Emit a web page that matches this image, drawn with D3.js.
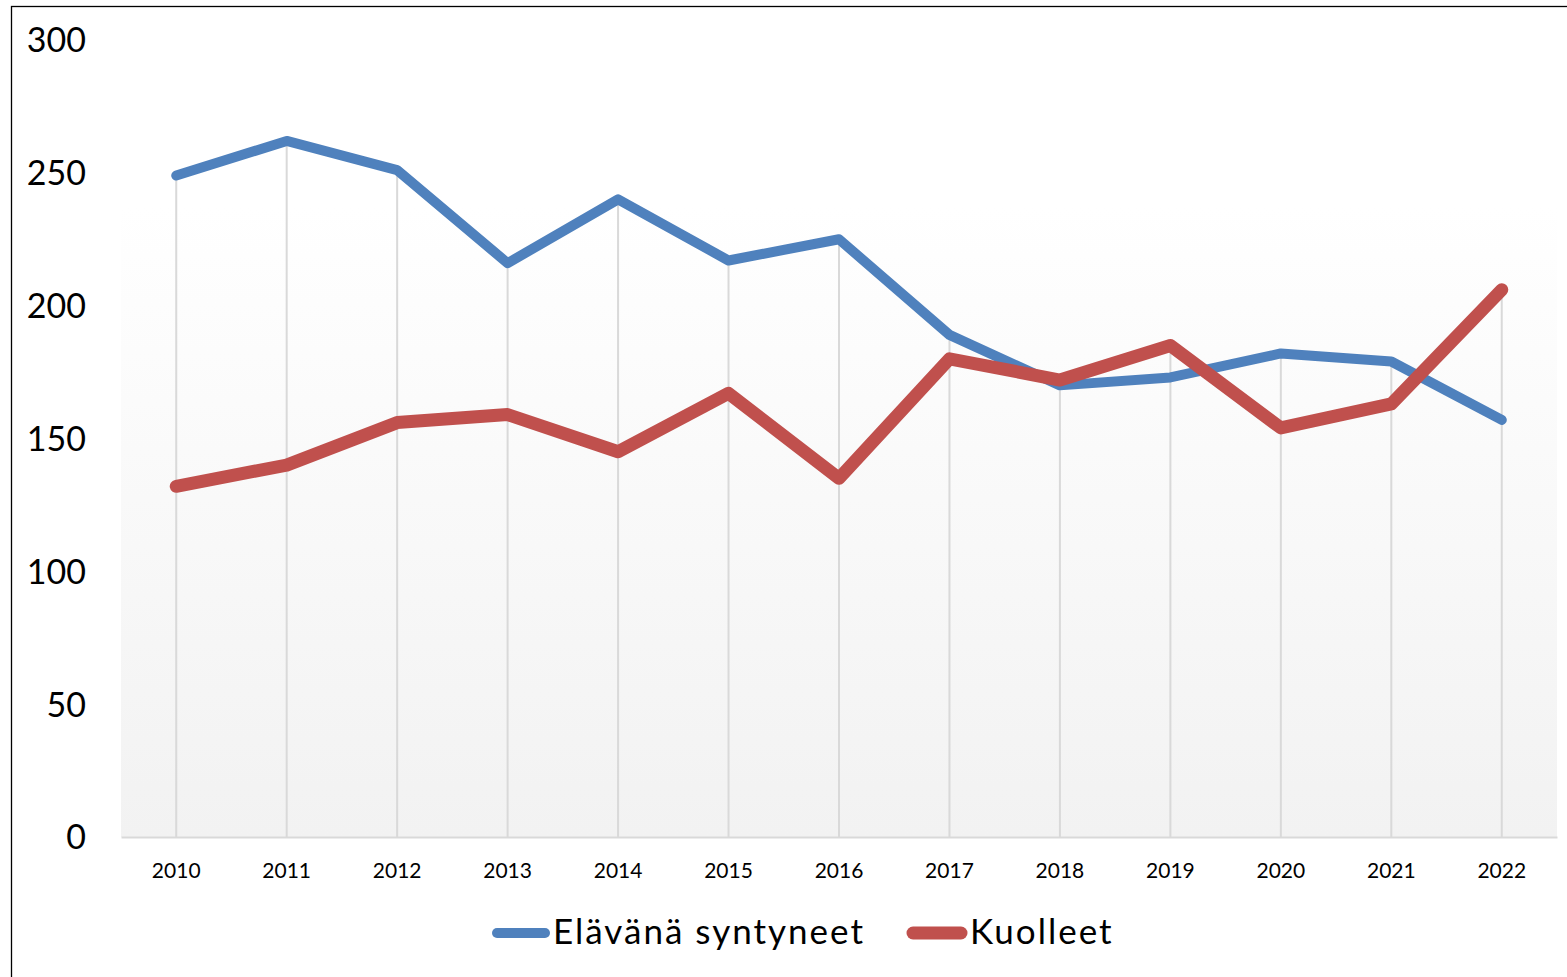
<!DOCTYPE html>
<html><head><meta charset="utf-8">
<script src="https://cdn.jsdelivr.net/npm/d3@7"></script>
<style>body{margin:0;background:#fff}svg{display:block}</style>
</head><body>
<script>
const years = ["2010","2011","2012","2013","2014","2015","2016","2017","2018","2019","2020","2021","2022"];
const born = [249,262,251,216,240,217,225,189,170,173,182,179,157];
const died = [132,140,156,159,145,167,135,180,172,185,154,163,206];
const yTicks = [0,50,100,150,200,250,300];
const seriesNames = ["Elävänä syntyneet","Kuolleet"];
const colors = ["#4f81bd","#c0504d"];

const W=1567,H=977;
const svg=d3.select("body").append("svg").attr("width",W).attr("height",H);
const font="Lato, 'Open Sans', sans-serif";

// outer border
svg.append("rect").attr("x",11.5).attr("y",6.5).attr("width",W+10).attr("height",H+10)
  .attr("fill","#fff").attr("stroke","#000").attr("stroke-width",1.3);

const x=d3.scaleBand().domain(years).range([121,1557]);
const y=d3.scaleLinear().domain([0,300]).range([837,40]);
const cx=d=>x(d)+x.bandwidth()/2;

// gradient plot background
const defs=svg.append("defs");
const g=defs.append("linearGradient").attr("id","bg").attr("x1",0).attr("y1",0).attr("x2",0).attr("y2",1);
g.append("stop").attr("offset","0%").attr("stop-color","#ffffff");
g.append("stop").attr("offset","100%").attr("stop-color","#f2f2f2");
svg.append("rect").attr("x",121).attr("y",207).attr("width",1436).attr("height",837-207).attr("fill","url(#bg)");

// drop lines
svg.append("g").selectAll("line").data(years).join("line")
  .attr("x1",d=>cx(d)).attr("x2",d=>cx(d))
  .attr("y1",(d,i)=>y(Math.max(born[i],died[i])))
  .attr("y2",837).attr("stroke","#d9d9d9").attr("stroke-width",2);

// x axis
const xAxis=svg.append("g").attr("transform","translate(0,837)")
  .call(d3.axisBottom(x).tickSize(0).tickPadding(26));
xAxis.select(".domain").attr("stroke","#d9d9d9").attr("stroke-width",2);
xAxis.selectAll("text").attr("font-family",font).attr("font-size",21).attr("fill","#000");

// y axis labels
const yAxis=svg.append("g").attr("transform","translate(86,0)")
  .call(d3.axisLeft(y).tickValues(yTicks).tickSize(0).tickPadding(0));
yAxis.select(".domain").remove();
yAxis.selectAll("text").attr("font-family",font).attr("font-size",34).attr("fill","#000").attr("dy","0.35em");

const line=d3.line().x((d,i)=>cx(years[i])).y(d=>y(d));
svg.append("path").datum(born).attr("d",line).attr("fill","none")
  .attr("stroke",colors[0]).attr("stroke-width",10).attr("stroke-linecap","round").attr("stroke-linejoin","round");
svg.append("path").datum(died).attr("d",line).attr("fill","none")
  .attr("stroke",colors[1]).attr("stroke-width",13).attr("stroke-linecap","round").attr("stroke-linejoin","round");

// legend
const leg=[{x:492,tx:553,w:10},{x:908,tx:970,w:13}];
leg.forEach((l,i)=>{
  svg.append("line").attr("x1",l.x+5).attr("x2",l.x+53).attr("y1",933).attr("y2",933)
    .attr("stroke",colors[i]).attr("stroke-width",l.w).attr("stroke-linecap","round");
  svg.append("text").attr("x",l.tx).attr("y",944).text(seriesNames[i])
    .attr("font-family",font).attr("font-size",35).attr("letter-spacing","2px").attr("fill","#000");
});
</script>
</body></html>
